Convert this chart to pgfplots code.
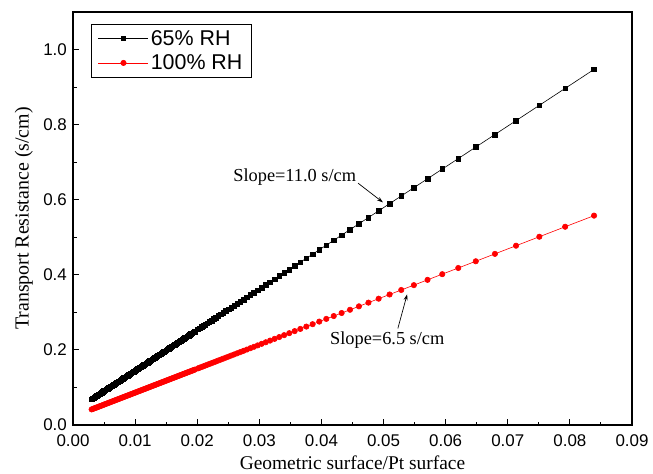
\documentclass[border=0pt]{standalone}
\usepackage{pgfplots}
\pgfplotsset{compat=1.18}
\usepackage{pgfplotstable}
\usepackage{fontspec}
\setmainfont{Liberation Serif}
\newfontfamily\sansf{Liberation Sans}
\usetikzlibrary{arrows.meta}

\pgfplotstableread{
x yb yr
0.0030 0.0686 0.0415
0.0032 0.0708 0.0428
0.0034 0.0729 0.0441
0.0036 0.0751 0.0454
0.0038 0.0773 0.0466
0.0040 0.0794 0.0479
0.0042 0.0816 0.0492
0.0044 0.0838 0.0505
0.0046 0.0860 0.0517
0.0048 0.0881 0.0530
0.0050 0.0903 0.0543
0.0052 0.0925 0.0556
0.0054 0.0946 0.0569
0.0056 0.0968 0.0581
0.0058 0.0990 0.0594
0.0060 0.1012 0.0607
0.0062 0.1033 0.0620
0.0064 0.1055 0.0632
0.0066 0.1077 0.0645
0.0068 0.1098 0.0658
0.0070 0.1120 0.0671
0.0072 0.1142 0.0683
0.0074 0.1164 0.0696
0.0076 0.1185 0.0709
0.0078 0.1207 0.0722
0.0080 0.1229 0.0734
0.0082 0.1251 0.0747
0.0084 0.1272 0.0760
0.0086 0.1294 0.0773
0.0088 0.1316 0.0785
0.0090 0.1337 0.0798
0.0092 0.1359 0.0811
0.0094 0.1381 0.0824
0.0096 0.1403 0.0836
0.0098 0.1424 0.0849
0.0100 0.1446 0.0862
0.0102 0.1468 0.0875
0.0104 0.1489 0.0888
0.0106 0.1511 0.0900
0.0108 0.1533 0.0913
0.0110 0.1555 0.0926
0.0112 0.1576 0.0939
0.0114 0.1598 0.0951
0.0116 0.1620 0.0964
0.0118 0.1641 0.0977
0.0120 0.1663 0.0990
0.0122 0.1685 0.1002
0.0124 0.1707 0.1015
0.0126 0.1728 0.1028
0.0128 0.1750 0.1041
0.0130 0.1772 0.1053
0.0132 0.1794 0.1066
0.0134 0.1815 0.1079
0.0136 0.1837 0.1092
0.0138 0.1859 0.1104
0.0140 0.1880 0.1117
0.0142 0.1902 0.1130
0.0144 0.1924 0.1143
0.0146 0.1946 0.1155
0.0148 0.1967 0.1168
0.0150 0.1989 0.1181
0.0152 0.2011 0.1194
0.0154 0.2032 0.1207
0.0156 0.2054 0.1219
0.0158 0.2076 0.1232
0.0160 0.2098 0.1245
0.0162 0.2119 0.1258
0.0164 0.2141 0.1270
0.0166 0.2163 0.1283
0.0168 0.2184 0.1296
0.0170 0.2206 0.1309
0.0172 0.2228 0.1321
0.0174 0.2250 0.1334
0.0176 0.2271 0.1347
0.0178 0.2293 0.1360
0.0180 0.2315 0.1372
0.0182 0.2337 0.1385
0.0184 0.2358 0.1398
0.0186 0.2380 0.1411
0.0188 0.2402 0.1423
0.0190 0.2423 0.1436
0.0192 0.2445 0.1449
0.0194 0.2467 0.1462
0.0196 0.2489 0.1474
0.02011 0.2544 0.1507
0.02040 0.2575 0.1526
0.02070 0.2608 0.1545
0.02100 0.2641 0.1564
0.02131 0.2674 0.1584
0.02164 0.2710 0.1605
0.02197 0.2746 0.1626
0.02231 0.2783 0.1647
0.02267 0.2822 0.1670
0.02303 0.2861 0.1693
0.02341 0.2902 0.1718
0.02380 0.2945 0.1742
0.02420 0.2988 0.1768
0.02462 0.3034 0.1795
0.02505 0.3080 0.1822
0.02550 0.3129 0.1851
0.02596 0.3179 0.1880
0.02644 0.3231 0.1911
0.02694 0.3286 0.1943
0.02746 0.3342 0.1976
0.02800 0.3401 0.2010
0.02856 0.3462 0.2046
0.02914 0.3525 0.2083
0.02974 0.3590 0.2121
0.03038 0.3659 0.2162
0.03104 0.3731 0.2204
0.03173 0.3806 0.2248
0.03245 0.3884 0.2294
0.03320 0.3966 0.2342
0.03399 0.4051 0.2393
0.03482 0.4141 0.2446
0.03569 0.4236 0.2501
0.03660 0.4335 0.2559
0.03757 0.4440 0.2621
0.03858 0.4550 0.2685
0.03965 0.4666 0.2754
0.04078 0.4789 0.2826
0.04198 0.4919 0.2902
0.04325 0.5057 0.2983
0.04460 0.5204 0.3069
0.04604 0.5360 0.3161
0.04757 0.5526 0.3259
0.04921 0.5704 0.3364
0.05097 0.5895 0.3476
0.05285 0.6100 0.3596
0.05488 0.6320 0.3725
0.05708 0.6559 0.3866
0.05945 0.6816 0.4017
0.06203 0.7096 0.4182
0.06485 0.7403 0.4361
0.06793 0.7737 0.4558
0.07133 0.8106 0.4775
0.07508 0.8514 0.5014
0.07924 0.8966 0.5280
0.08389 0.9471 0.5576
}\datatable

\begin{document}
\begin{tikzpicture}
\begin{axis}[
  scale only axis,
  width=559bp, height=413bp,
  xmin=0, xmax=0.09, ymin=0, ymax=1.1,
  xtick={0,0.01,...,0.09},
  ytick={0,0.2,0.4,0.6,0.8,1.0},
  minor x tick num=1, minor y tick num=1,
  tick align=inside,
  xtick pos=bottom, ytick pos=left,
  major tick length=6bp, minor tick length=3.5bp,
  axis line style={line width=1.3bp},
  every tick/.style={black, line width=0.9bp},
  /pgf/number format/assume math mode=true,
  xticklabel style={font=\sansf\fontsize{17}{20}\selectfont, anchor=base, yshift=-21bp, /pgf/number format/.cd, fixed, fixed zerofill, precision=2},
  yticklabel style={font=\sansf\fontsize{17}{20}\selectfont, anchor=east, inner sep=0pt, xshift=-6bp, /pgf/number format/.cd, fixed, fixed zerofill, precision=1},
  scaled x ticks=false, scaled y ticks=false,
  xlabel={Geometric surface/Pt surface},
  ylabel={Transport Resistance (s/cm)},
  xlabel style={font=\fontsize{19.5}{22}\selectfont, at={(axis description cs:0.5,0)}, anchor=base, yshift=-44bp},
  ylabel style={font=\fontsize{20}{22}\selectfont, at={(axis description cs:-0.088,0.5)}, anchor=center},
  legend style={at={(axis description cs:0.032,0.971)}, anchor=north west, draw=black, line width=0.6bp,
    font=\sansf\fontsize{21.5}{24}\selectfont, inner xsep=7bp, inner ysep=4bp, row sep=4bp},
  legend cell align=left,
  legend image code/.code={\draw[mark repeat=2, mark phase=2, #1] plot coordinates {(0bp,0bp) (25bp,0bp) (50bp,0bp)};},
  clip=false,
]
\addplot[black, line width=0.6bp, mark=square*, mark size=2.3bp, mark options={solid}] table[x=x, y=yb] {\datatable};
\addlegendentry{65\% RH}
\addplot[red, line width=0.6bp, mark=*, mark size=2.7bp, mark options={solid}] table[x=x, y=yr] {\datatable};
\addlegendentry{100\% RH}
\node[font=\fontsize{18.4}{21}\selectfont, anchor=center] at (axis cs:0.0357,0.660) {Slope=11.0 s/cm};
\draw[-{Stealth[length=6bp,width=4bp]}, line width=0.7bp] (axis cs:0.0459,0.644) -- (axis cs:0.0499,0.593);
\node[font=\fontsize{18.4}{21}\selectfont, anchor=center] at (axis cs:0.0506,0.225) {Slope=6.5 s/cm};
\draw[-{Stealth[length=6bp,width=4bp]}, line width=0.7bp] (axis cs:0.0523,0.257) -- (axis cs:0.0538,0.348);
\end{axis}
\pgfresetboundingbox
\path[use as bounding box] (-73bp,-49bp) rectangle (580bp,425bp);
\end{tikzpicture}
\end{document}
